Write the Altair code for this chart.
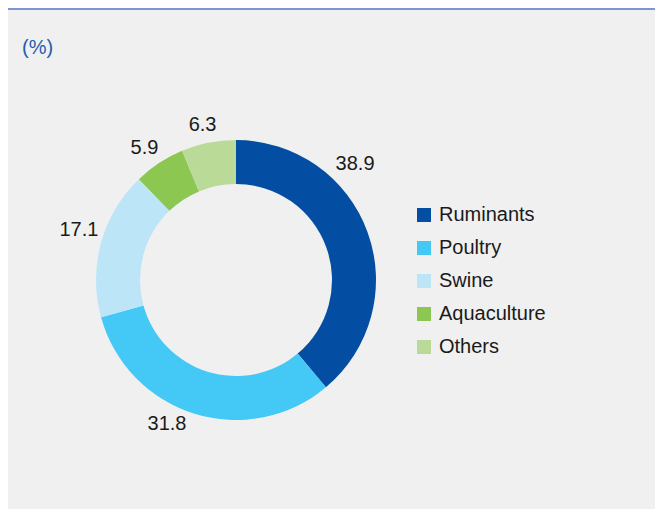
import altair as alt
import pandas as pd

categories = ["Ruminants", "Poultry", "Swine", "Aquaculture", "Others"]
values = [38.9, 31.8, 17.1, 5.9, 6.3]
labels = ["38.9", "31.8", "17.1", "5.9", "6.3"]
colors = ["#034ea2", "#44c8f5", "#bde5f8", "#8bc751", "#b9db97"]

# label nudges (pixels) relative to the slice mid-angle position
nudges = {
    "Ruminants": (-36, -60),
    "Poultry": (-20, -14),
    "Swine": (2, -6),
    "Aquaculture": (-1, 6),
    "Others": (-1, 7),
}

df = pd.DataFrame({
    "category": categories,
    "value": values,
    "label": labels,
    "idx": list(range(len(categories))),
})

W, H = 647, 501
CX, CY = 228, 272
FONT = "Liberation Sans"

theta_scale = alt.Scale(domain=[0, 100], range=[0, 6.283185307179586])
color_scale = alt.Scale(domain=categories, range=colors)

base = alt.Chart(df).transform_window(
    cum_end="sum(value)", sort=[alt.SortField("idx")]
).transform_calculate(
    cum_start="datum.cum_end - datum.value",
    mid="datum.cum_end - datum.value / 2",
)

arcs = base.mark_arc(outerRadius=140, innerRadius=96, x=CX, y=CY, stroke=None).encode(
    theta=alt.Theta("cum_start:Q", scale=theta_scale),
    theta2="cum_end:Q",
    color=alt.Color(
        "category:N",
        scale=color_scale,
        legend=alt.Legend(
            title=None,
            orient="none",
            legendX=406,
            legendY=197,
            symbolType="square",
            symbolSize=196,
            symbolStrokeWidth=0,
            labelFontSize=20,
            labelFont=FONT,
            labelColor="#1a1a1a",
            labelOffset=5,
            rowPadding=13,
        ),
    ),
)

text_layers = []
for cat in categories:
    dx, dy = nudges[cat]
    t = base.transform_filter(alt.datum.category == cat).mark_text(
        radius=165, x=CX, y=CY, dx=dx, dy=dy, fontSize=20, font=FONT,
        color="#1a1a1a", align="center", baseline="middle",
    ).encode(
        theta=alt.Theta("mid:Q", scale=theta_scale),
        text="label:N",
    )
    text_layers.append(t)

unit = alt.Chart(pd.DataFrame({"t": ["(%)"]})).mark_text(
    font=FONT, fontSize=20, color="#1f5fae", align="left", baseline="middle"
).encode(x=alt.value(14), y=alt.value(40), text="t:N")

topline = alt.Chart(pd.DataFrame({"a": [0]})).mark_rule(
    color="#7b95d4", strokeWidth=2
).encode(x=alt.value(0), x2=alt.value(W), y=alt.value(1))

chart = alt.layer(arcs, *text_layers, unit, topline).properties(
    width=W, height=H, background="#f0f0f0", padding=0,
    autosize=alt.AutoSizeParams(type="none"),
).configure_view(strokeWidth=0)

chart.save("out.html", embed_options={"renderer": "svg", "actions": False})
